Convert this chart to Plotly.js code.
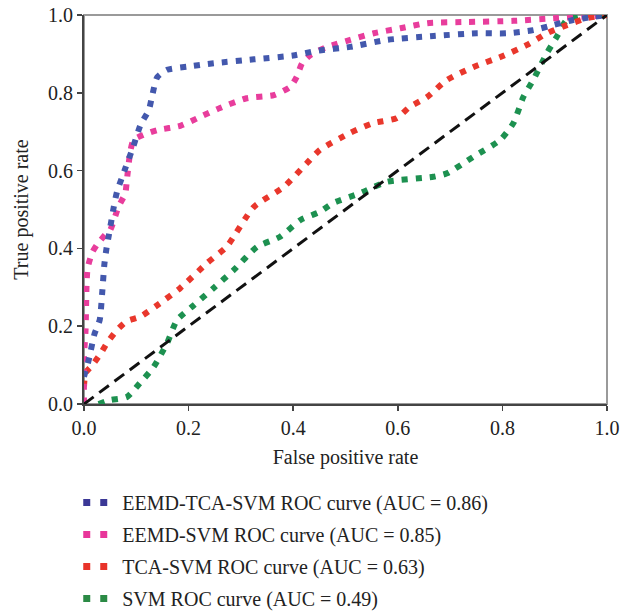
<!DOCTYPE html>
<html>
<head>
<meta charset="utf-8">
<script src="https://cdn.plot.ly/plotly-3.0.1.min.js"></script>
<style>html,body{margin:0;padding:0;background:#fff;}#chart{width:630px;height:614px;}</style>
</head>
<body>
<div id="chart"></div>
<script>
// Data
const seriesNames = [
  "EEMD-TCA-SVM ROC curve (AUC = 0.86)",
  "EEMD-SVM ROC curve (AUC = 0.85)",
  "TCA-SVM ROC curve (AUC = 0.63)",
  "SVM ROC curve (AUC = 0.49)"
];
const blueX = [0.0, 0.009, 0.020, 0.030, 0.035, 0.039, 0.043, 0.047, 0.057, 0.063, 0.079, 0.094, 0.108, 0.124, 0.130, 0.140, 0.159, 0.197, 0.248, 0.325, 0.400, 0.445, 0.509, 0.579, 0.668, 0.751, 0.808, 0.859, 0.897, 0.935, 0.973, 1.0];
const blueY = [0.07, 0.113, 0.18, 0.216, 0.29, 0.36, 0.40, 0.43, 0.507, 0.545, 0.606, 0.661, 0.717, 0.756, 0.79, 0.84, 0.859, 0.867, 0.876, 0.886, 0.896, 0.908, 0.918, 0.936, 0.946, 0.953, 0.953, 0.961, 0.974, 0.987, 0.995, 1.0];
const pinkX = [0.0, 0.0, 0.003, 0.005, 0.007, 0.016, 0.025, 0.044, 0.050, 0.066, 0.079, 0.082, 0.089, 0.095, 0.114, 0.140, 0.184, 0.222, 0.260, 0.311, 0.363, 0.395, 0.407, 0.417, 0.433, 0.465, 0.509, 0.554, 0.605, 0.656, 0.732, 0.821, 0.904, 0.973, 1.0];
const pinkY = [0.0, 0.12, 0.19, 0.31, 0.35, 0.39, 0.41, 0.44, 0.447, 0.507, 0.542, 0.576, 0.653, 0.679, 0.692, 0.704, 0.715, 0.738, 0.761, 0.786, 0.794, 0.816, 0.842, 0.876, 0.897, 0.918, 0.936, 0.953, 0.966, 0.979, 0.982, 0.985, 0.992, 0.997, 1.0];
const redX = [0.0, 0.003, 0.016, 0.032, 0.044, 0.063, 0.082, 0.107, 0.140, 0.184, 0.235, 0.273, 0.325, 0.382, 0.426, 0.451, 0.509, 0.553, 0.598, 0.623, 0.656, 0.694, 0.744, 0.796, 0.847, 0.885, 0.923, 0.962, 1.0];
const redY = [0.045, 0.08, 0.10, 0.13, 0.157, 0.19, 0.213, 0.224, 0.254, 0.298, 0.362, 0.405, 0.507, 0.558, 0.619, 0.653, 0.697, 0.722, 0.735, 0.764, 0.789, 0.833, 0.866, 0.892, 0.923, 0.953, 0.974, 0.992, 1.0];
const greenX = [0.028, 0.050, 0.082, 0.107, 0.133, 0.159, 0.178, 0.210, 0.248, 0.286, 0.331, 0.375, 0.414, 0.451, 0.477, 0.528, 0.579, 0.668, 0.694, 0.744, 0.796, 0.821, 0.840, 0.859, 0.885, 0.904, 0.923, 0.954, 1.0];
const greenY = [0.0, 0.01, 0.018, 0.054, 0.095, 0.157, 0.216, 0.254, 0.298, 0.344, 0.404, 0.43, 0.473, 0.494, 0.517, 0.542, 0.571, 0.584, 0.593, 0.635, 0.679, 0.722, 0.789, 0.833, 0.902, 0.944, 0.987, 1.0, 1.0];
const chanceX = [0, 1];
const chanceY = [0, 1];
const xTicks = [0, 0.2, 0.4, 0.6, 0.8, 1.0];
const yTicks = [0, 0.2, 0.4, 0.6, 0.8, 1.0];
const tickText = ["0.0", "0.2", "0.4", "0.6", "0.8", "1.0"];

const lineColors = ["#4358ad", "#e83d9c", "#e9372c", "#1d9150"];
const legendColors = ["#3b3896", "#e8369a", "#e8332a", "#2b8a45"];
const FONT = "Liberation Serif, Times New Roman, serif";

const curves = [
  {x: greenX, y: greenY, i: 3},
  {x: redX, y: redY, i: 2},
  {x: pinkX, y: pinkY, i: 1},
  {x: blueX, y: blueY, i: 0}
];
const traces = curves.map(c => ({
  x: c.x, y: c.y, type: "scatter", mode: "lines",
  line: {color: lineColors[c.i], width: 6, dash: "6px,8px", shape: "spline", smoothing: 0.6},
  showlegend: false, hoverinfo: "skip"
}));
traces.push({
  x: chanceX, y: chanceY, type: "scatter", mode: "lines",
  line: {color: "#111", width: 3, dash: "12px,7px"},
  showlegend: false, hoverinfo: "skip"
});
seriesNames.forEach((n, i) => {
  traces.push({
    x: [null], y: [null], type: "scatter", mode: "lines", name: n,
    legendgroup: "g" + i,
    line: {color: legendColors[i], width: 7, dash: "7px,10px,7px,40px"}
  });
});

const axisCommon = {
  range: [0, 1], tickvals: xTicks, ticktext: tickText, ticks: "outside", ticklen: 5,
  tickwidth: 1.5, tickcolor: "#444", showline: true, linecolor: "#444", linewidth: 2,
  showgrid: false, zeroline: false, tickfont: {family: FONT, size: 20, color: "#222"},
  fixedrange: true, automargin: false
};

const layout = {
  width: 630, height: 614,
  margin: {l: 83.5, r: 23, t: 15, b: 210, autoexpand: false},
  paper_bgcolor: "#fff", plot_bgcolor: "#fff",
  font: {family: FONT, size: 20, color: "#222"},
  xaxis: Object.assign({}, axisCommon, {
    title: {text: "False positive rate", font: {family: FONT, size: 20, color: "#222"}, standoff: 12}
  }),
  yaxis: Object.assign({}, axisCommon, {
    tickvals: yTicks,
    title: {text: "True positive rate", font: {family: FONT, size: 20, color: "#222"}, standoff: 14}
  }),
  shapes: [{type: "rect", xref: "paper", yref: "paper", x0: 0, x1: 1, y0: 0, y1: 1,
            line: {color: "#9a9a9a", width: 2}, layer: "below"}],
  legend: {
    x: -0.011, xanchor: "left", y: -0.203, yanchor: "top",
    font: {family: FONT, size: 20, color: "#222"},
    tracegroupgap: 3, itemwidth: 34, bgcolor: "rgba(0,0,0,0)", borderwidth: 0
  },
  showlegend: true
};

Plotly.newPlot("chart", traces, layout, {displayModeBar: false, staticPlot: true});
</script>
</body>
</html>
